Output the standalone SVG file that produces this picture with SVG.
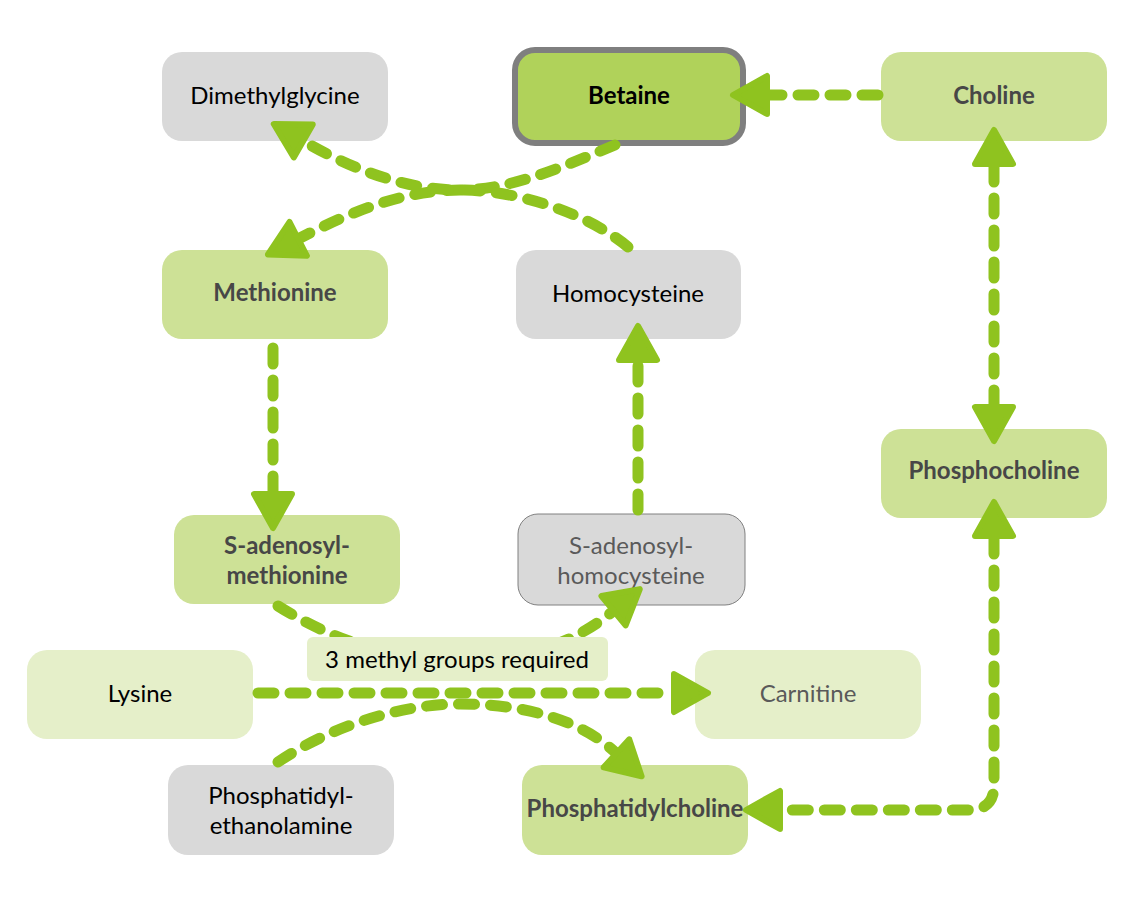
<svg xmlns="http://www.w3.org/2000/svg" width="1139" height="901" viewBox="0 0 1139 901">
<style>
.gray{fill:#d9d9d9}
.mid{fill:#cde196}
.pale{fill:#e5efc9}
.t{font-family:Lato,"Liberation Sans",sans-serif;font-size:24px;text-anchor:middle;fill:#000}
.b{font-weight:bold;fill:#474747}
.soft{fill:#5a5a5a}
.c{fill:none;stroke:#8fc31f;stroke-width:11;stroke-linecap:round;stroke-linejoin:round;stroke-dasharray:16 16}
.ah{fill:#8fc31f;stroke:#8fc31f;stroke-width:6;stroke-linejoin:round}
</style>
<defs>
<marker id="arr" markerUnits="userSpaceOnUse" markerWidth="56" markerHeight="56" viewBox="-6 -28 56 56" refX="0" refY="0" orient="auto-start-reverse">
<path class="ah" d="M2,-19 L36,0 L2,19 Z"/>
</marker>
</defs>
<rect width="1139" height="901" fill="#fff"/>
<g id="dimethylglycine"><rect class="gray" x="162" y="52" width="226" height="89" rx="20"/><text class="t" x="275" y="104">Dimethylglycine</text></g>
<g id="betaine"><rect x="515" y="50" width="228" height="93" rx="20" fill="#b0d25a" stroke="#7f7f7f" stroke-width="6"/><text class="t" x="629" y="104" font-weight="bold">Betaine</text></g>
<g id="choline"><rect class="mid" x="881" y="52" width="226" height="89" rx="20"/><text class="t b" x="994" y="104">Choline</text></g>
<g id="methionine"><rect class="mid" x="162" y="250" width="226" height="89" rx="20"/><text class="t b" x="275" y="301">Methionine</text></g>
<g id="homocysteine"><rect class="gray" x="516" y="250" width="225" height="89" rx="20"/><text class="t" x="628" y="302">Homocysteine</text></g>
<g id="sam"><rect class="mid" x="174" y="515" width="226" height="89" rx="20"/><text class="t b" x="287" y="554">S-adenosyl-</text><text class="t b" x="287" y="584">methionine</text></g>
<g id="sah"><rect class="gray" x="518" y="514" width="227" height="91" rx="20" stroke="#808080" stroke-width="1"/><text class="t soft" x="631" y="554">S-adenosyl-</text><text class="t soft" x="631" y="584">homocysteine</text></g>
<g id="lysine"><rect class="pale" x="27" y="650" width="226" height="89" rx="20"/><text class="t" x="140" y="702">Lysine</text></g>
<g id="carnitine"><rect class="pale" x="695" y="650" width="226" height="89" rx="20"/><text class="t soft" x="808" y="702">Carnitine</text></g>
<g id="phosphatidylethanolamine"><rect class="gray" x="168" y="765" width="226" height="90" rx="20"/><text class="t" x="281" y="804">Phosphatidyl-</text><text class="t" x="281" y="834">ethanolamine</text></g>
<g id="phosphatidylcholine"><rect class="mid" x="522" y="765" width="226" height="90" rx="20"/><text class="t b" x="635" y="817">Phosphatidylcholine</text></g>
<g id="phosphocholine"><rect class="mid" x="881" y="429" width="226" height="89" rx="20"/><text class="t b" x="994" y="479">Phosphocholine</text></g>
<g id="connectors">
<path class="c" d="M878,95 L769,95" marker-end="url(#arr)"/>
<path class="c" d="M615,145 C560,168 510,190 460,190 C400,190 345,215 300,238" marker-end="url(#arr)"/>
<path class="c" d="M628,247 C590,215 520,190 460,190 C400,190 345,165 305,142" marker-end="url(#arr)"/>
<path class="c" d="M273,348 L273,492" marker-end="url(#arr)"/>
<path class="c" d="M638,510 L638,362" marker-end="url(#arr)"/>
<path class="c" d="M278,606 C340,645 400,660 460,660 C530,660 578,640 612,612" marker-end="url(#arr)"/>
<path class="c" d="M258,693 L672,693" marker-end="url(#arr)"/>
<path class="c" d="M278,762 C325,730 395,704 460,704 C525,704 580,720 615,752" marker-end="url(#arr)"/>
<path class="c" d="M994,166 L994,405" marker-start="url(#arr)" marker-end="url(#arr)"/>
<path class="c" d="M994,538 L994,785 Q994,810 969,810 L782,810" marker-start="url(#arr)" marker-end="url(#arr)"/>
</g>
<g id="label"><rect class="pale" x="307" y="637" width="301" height="44" rx="6"/><text class="t" x="457" y="668">3 methyl groups required</text></g>
</svg>
